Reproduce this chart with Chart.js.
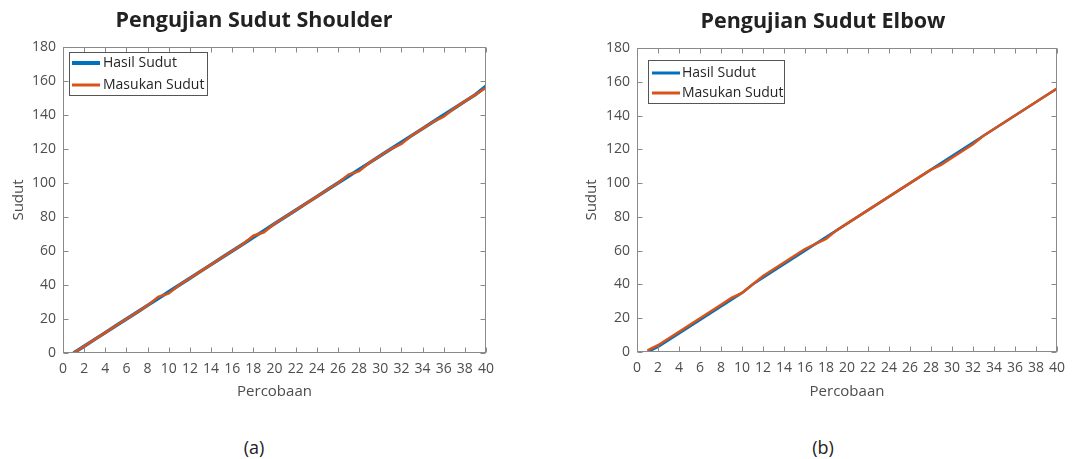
<!DOCTYPE html>
<html><head><meta charset="utf-8">
<script src="https://cdn.jsdelivr.net/npm/chart.js@4.4.0/dist/chart.umd.min.js"></script>
<style>
html,body{margin:0;padding:0;background:#fff;width:1085px;height:459px;overflow:hidden;position:relative;}
canvas{position:absolute;top:0;}
.cap{position:absolute;font-family:"Open Sans",sans-serif;font-size:18px;color:#222;transform:translate(-50%,-50%);line-height:1;}
</style></head><body>
<canvas id="c1" width="545" height="410" style="left:0"></canvas>
<canvas id="c2" width="540" height="410" style="left:545px"></canvas>
<div class="cap" style="left:254px;top:447px">(a)</div>
<div class="cap" style="left:823px;top:447px">(b)</div>
<script>
const trials = [1,2,3,4,5,6,7,8,9,10,11,12,13,14,15,16,17,18,19,20,21,22,23,24,25,26,27,28,29,30,31,32,33,34,35,36,37,38,39,40];
const shoulderHasil   = [0,4,8,12,16,20,24,28,32,36,40,44,48,52,56,60,64,68,72,76,80,84,88,92,96,100,104,108,112,116,120,124,128,132,136,140,144,148,152,157];
const shoulderMasukan = [0,4,8,12,16,20,24,28,33,35,40,44,48,52,56,60,64,69,71,76,80,84,88,92,96,100,105,107,112,116,120,123,128,132,136,139,144,148,152,156];
const elbowHasil      = [0,3,7,11,15,19,23,27,31,35,40,44,48,52,56,60,64,68,72,76,80,84,88,92,96,100,104,108,112,116,120,124,128,132,136,140,144,148,152,156];
const elbowMasukan    = [1,4,8,12,16,20,24,28,32,35,40,45,49,53,57,61,64,67,72,76,80,84,88,92,96,100,104,108,111,115,119,123,128,132,136,140,144,148,152,156];
const seriesNames = ['Hasil Sudut','Masukan Sudut'];
const titles = ['Pengujian Sudut Shoulder','Pengujian Sudut Elbow'];
const xTitle = 'Percobaan';
const yTitle = 'Sudut';

const FONT = '"Open Sans", sans-serif';
const TXT = '#4d4d4d';
const AXC = '#8a8a8a';

const boxPlugin = {
  id: 'matlabBox',
  afterDatasetsDraw(chart, args, o) {
    const {ctx, chartArea: a, scales: {x, y}} = chart;
    ctx.save();
    ctx.strokeStyle = AXC; ctx.lineWidth = 1;
    const L = Math.round(a.left) + 0.5, R = Math.round(a.right) - 0.5;
    const T = Math.round(a.top) + 0.5, B = Math.round(a.bottom) - 0.5;
    ctx.strokeRect(L, T, R - L, B - T);
    const tl = 5;
    ctx.beginPath();
    x.ticks.forEach(t => {
      const px = Math.round(x.getPixelForValue(t.value)) + 0.5;
      ctx.moveTo(px, B); ctx.lineTo(px, B - tl);
      ctx.moveTo(px, T); ctx.lineTo(px, T + tl);
    });
    y.ticks.forEach(t => {
      const py = Math.round(y.getPixelForValue(t.value)) + 0.5;
      ctx.moveTo(L, py); ctx.lineTo(L + tl, py);
      ctx.moveTo(R, py); ctx.lineTo(R - tl, py);
    });
    ctx.stroke();
    // legend
    const lg = o.legend;
    ctx.fillStyle = '#fff';
    ctx.fillRect(lg.x, lg.y, lg.w, lg.h);
    ctx.strokeStyle = '#555';
    ctx.strokeRect(lg.x + 0.5, lg.y + 0.5, lg.w, lg.h);
    chart.data.datasets.forEach((ds, i) => {
      const cy = lg.rows[i];
      ctx.strokeStyle = ds.borderColor;
      ctx.lineWidth = o.legendLW[i];
      ctx.beginPath(); ctx.moveTo(lg.lx0, cy); ctx.lineTo(lg.lx1, cy); ctx.stroke();
      ctx.fillStyle = '#262626';
      ctx.font = '14px ' + FONT;
      ctx.textBaseline = 'middle'; ctx.textAlign = 'left';
      ctx.fillText(ds.label, lg.tx, cy);
    });
    // title
    ctx.fillStyle = '#222';
    ctx.font = 'bold 21.5px ' + FONT;
    ctx.textAlign = 'center'; ctx.textBaseline = 'middle';
    ctx.fillText(o.title, o.titleX, o.titleY);
    ctx.restore();
  }
};

function makeChart(id, hasil, masukan, cfg) {
  return new Chart(document.getElementById(id), {
    type: 'line',
    data: {
      datasets: [
        {label: seriesNames[0], order: 1, data: trials.map((t, i) => ({x: t, y: hasil[i]})), borderColor: '#0072BD', borderWidth: cfg.bw[0], pointRadius: 0, tension: 0, fill: false},
        {label: seriesNames[1], order: 0, data: trials.map((t, i) => ({x: t, y: masukan[i]})), borderColor: '#D95319', borderWidth: cfg.bw[1], pointRadius: 0, tension: 0, fill: false}
      ]
    },
    options: {
      responsive: false, animation: false, devicePixelRatio: 1,
      layout: {padding: {left: cfg.padL, right: cfg.padR, top: cfg.top, bottom: 0}},
      plugins: {
        legend: {display: false}, tooltip: {enabled: false}, title: {display: false},
        matlabBox: {title: cfg.title, titleX: cfg.titleX, titleY: cfg.titleY, legend: cfg.legend, legendLW: cfg.legendLW}
      },
      scales: {
        x: {
          type: 'linear', min: 0, max: 40,
          ticks: {stepSize: 2, padding: 8, color: TXT, font: {family: FONT, size: 14}, maxRotation: 0, autoSkip: false},
          grid: {display: false, drawTicks: false}, border: {display: false},
          title: {display: true, text: xTitle, color: TXT, font: {family: FONT, size: 15}, padding: {top: 0, bottom: 9}},
          afterFit(s) { s.height = cfg.xH; }
        },
        y: {
          min: 0, max: 180,
          ticks: {stepSize: 20, padding: 7, color: TXT, font: {family: FONT, size: 14}},
          grid: {display: false, drawTicks: false}, border: {display: false},
          title: {display: true, text: yTitle, color: TXT, font: {family: FONT, size: 15}, padding: {top: 10, bottom: 0}},
          afterFit(s) { s.width = cfg.yW; }
        }
      }
    },
    plugins: [boxPlugin]
  });
}

makeChart('c1', shoulderHasil, shoulderMasukan, {
  bw: [3.5, 2.5], legendLW: [4, 3], padL: 0, padR: 59, top: 47, xH: 57, yW: 63,
  title: titles[0], titleX: 254, titleY: 21,
  legend: {x: 69, y: 52, w: 138, h: 43, rows: [63, 85], lx0: 72, lx1: 100, tx: 103}
});
makeChart('c2', elbowHasil, elbowMasukan, {
  bw: [2.5, 2.5], legendLW: [3, 3], padL: 28, padR: 28, top: 48, xH: 58, yW: 64,
  title: titles[1], titleX: 278, titleY: 22,
  legend: {x: 103, y: 60, w: 136, h: 43, rows: [73, 93], lx0: 107, lx1: 135, tx: 137}
});
</script>
</body></html>
